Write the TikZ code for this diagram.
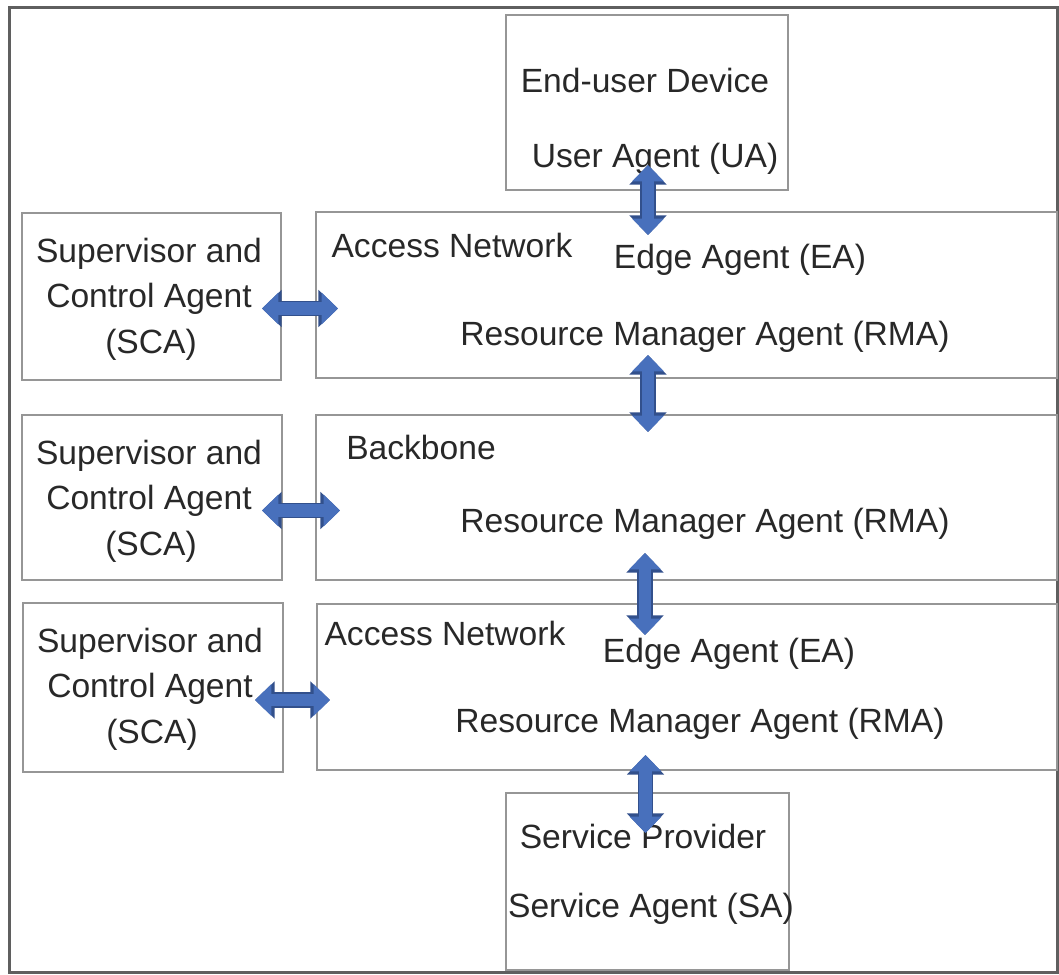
\documentclass[tikz,border=0pt]{standalone}
\usepackage{fontspec}
\setmainfont{Liberation Sans}
\usetikzlibrary{arrows.meta,calc}
\definecolor{boxgray}{RGB}{150,150,150}
\definecolor{framegray}{RGB}{95,95,95}
\definecolor{txt}{RGB}{40,40,40}
\definecolor{arrowblue}{RGB}{72,112,188}
\definecolor{arrowdark}{RGB}{50,80,140}
\begin{document}
\begin{tikzpicture}[x=0.5pt,y=-0.5pt,
  box/.style={draw=boxgray, line width=1.2pt, inner sep=0pt, outer sep=0pt, anchor=north west},
  frame/.style={draw=framegray, line width=1.5pt, inner sep=0pt, outer sep=0pt, anchor=north west},
  lbl/.style={anchor=base, inner sep=0pt, text=txt, font=\fontsize{16.8}{20}\selectfont},
  conn/.style={preaction={draw=arrowdark, line width=7.6pt, arrows={Triangle[width=18pt,length=9.8pt]-Triangle[width=18pt,length=9.8pt]}},
    arrowblue, line width=6.2pt, {Triangle[width=15.5pt,length=8.2pt]}-{Triangle[width=15.5pt,length=8.2pt]}}]
\useasboundingbox (0,0) rectangle (1059,974);
% outer frame
\node[frame, minimum width=524pt, minimum height=482pt] (frm) at (9,8) {};
% boxes
\node[box, minimum width=141pt, minimum height=87.5pt] (ua) at (506,15) {};
\node[box, minimum width=129.5pt, minimum height=83.5pt] (sca1) at (22,213) {};
\node[box, minimum width=370.5pt, minimum height=83pt] (an1) at (316,212) {};
\node[box, minimum width=130pt, minimum height=82.5pt] (sca2) at (22,415) {};
\node[box, minimum width=370.5pt, minimum height=82.5pt] (bb) at (316,415) {};
\node[box, minimum width=130pt, minimum height=84.5pt] (sca3) at (23,603) {};
\node[box, minimum width=370pt, minimum height=83pt] (an2) at (317,604) {};
\node[box, minimum width=141.5pt, minimum height=88.5pt] (sa) at (506,793) {};
% labels
\node[lbl] (ua1) at (645,92) {End-user Device};
\node[lbl] (ua2) at (655,167) {User Agent (UA)};
\node[lbl] (s1a) at (149,262) {Supervisor and};
\node[lbl] (s1b) at (149,307) {Control Agent};
\node[lbl] (s1c) at (151,353) {(SCA)};
\node[lbl] (n1a) at (452,257) {Access Network};
\node[lbl] (n1b) at (740,268) {Edge Agent (EA)};
\node[lbl] (n1c) at (705,345) {Resource Manager Agent (RMA)};
\node[lbl] (s2a) at (149,464) {Supervisor and};
\node[lbl] (s2b) at (149,509) {Control Agent};
\node[lbl] (s2c) at (151,555) {(SCA)};
\node[lbl] (b1) at (421,459) {Backbone};
\node[lbl] (b2) at (705,532) {Resource Manager Agent (RMA)};
\node[lbl] (s3a) at (150,652) {Supervisor and};
\node[lbl] (s3b) at (150,697) {Control Agent};
\node[lbl] (s3c) at (152,743) {(SCA)};
\node[lbl] (n2a) at (445,645) {Access Network};
\node[lbl] (n2b) at (729,662) {Edge Agent (EA)};
\node[lbl] (n2c) at (700,732) {Resource Manager Agent (RMA)};
\node[lbl] (sp1) at (643,848) {Service Provider};
\node[lbl] (sp2) at (651,917) {Service Agent (SA)};
% connectors
\draw[conn] ($(ua.south)+(1,-25)$) -- ($(ua.south |- an1.north)+(1,23)$);
\draw[conn] ($(ua.south |- an1.south)+(1,-23)$) -- ($(ua.south |- bb.north)+(1,17)$);
\draw[conn] ($(ua.south |- bb.south)+(-2,-27)$) -- ($(ua.south |- an2.north)+(-2,31)$);
\draw[conn] ($(sa.north |- an2.south)+(-2,-15)$) -- ($(sa.north)+(-2,40)$);
\draw[conn] ($(sca1.east)+(-19,12)$) -- ($(sca1.east -| an1.west)+(22,12)$);
\draw[conn] ($(sca2.east)+(-20,13)$) -- ($(sca2.east -| bb.west)+(24,13)$);
\draw[conn] ($(sca3.east)+(-28,12.5)$) -- ($(sca3.east -| an2.west)+(13,12.5)$);
\end{tikzpicture}
\end{document}
